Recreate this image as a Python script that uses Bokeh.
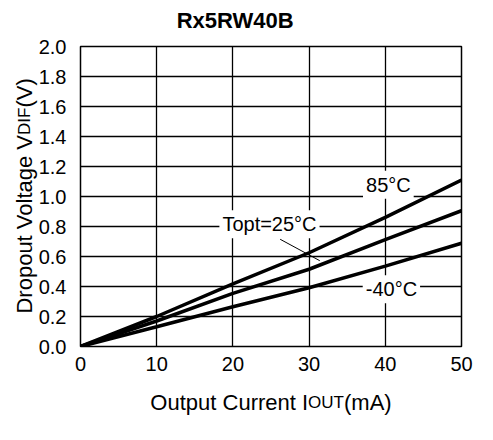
import math
from bokeh.plotting import figure
from bokeh.models import Range1d, FixedTicker, Label, NumeralTickFormatter
from bokeh.core.properties import value
from bokeh.embed import file_html
from bokeh.resources import INLINE

# ---- data ----
iout = [0, 10, 20, 30, 40, 50]                      # Output current (mA)
v_85 = [0, 0.200, 0.417, 0.625, 0.861, 1.110]       # 85°C
v_25 = [0, 0.170, 0.354, 0.515, 0.713, 0.905]       # Topt=25°C
v_m40 = [0, 0.132, 0.265, 0.392, 0.536, 0.688]      # -40°C
x_ticks = [0, 10, 20, 30, 40, 50]
y_ticks = [0.0, 0.2, 0.4, 0.6, 0.8, 1.0, 1.2, 1.4, 1.6, 1.8, 2.0]
title_text = "Rx5RW40B"
series_labels = ["85°C", "Topt=25°C", "-40°C"]
label_x = [40.4, 24.8, 40.8]
label_y = [1.079, 0.815, 0.382]
leader_x = [26.2, 31.4]
leader_y = [0.715, 0.572]

FONT = "Liberation Sans"
X0, X1, Y0, Y1 = 0, 50, 0, 2
FW, FH = 381, 300
BL, BR, BT, BB = 80, 14, 46, 70
CW = BL + FW + BR

# Arial / Liberation Sans advance widths (per 1000 em)
AW = {" ": 278, "(": 333, ")": 333, "A": 667, "C": 722, "D": 722, "F": 611,
      "I": 278, "O": 778, "T": 611, "U": 722, "V": 667, "a": 556, "e": 556,
      "g": 556, "l": 222, "m": 833, "n": 556, "o": 556, "p": 556, "r": 333,
      "t": 278, "u": 556}


def tw(s, size):
    return sum(AW.get(c, 556) for c in s) / 1000.0 * size


def fx(px):
    """pixels right of the frame's left edge -> data x"""
    return X0 + px * (X1 - X0) / FW


def fy(py):
    """pixels above the frame's bottom edge -> data y"""
    return Y0 + py * (Y1 - Y0) / FH


p = figure(frame_width=FW, frame_height=FH,
           min_border_left=BL, min_border_right=BR,
           min_border_top=BT, min_border_bottom=BB,
           x_range=Range1d(X0, X1), y_range=Range1d(Y0, Y1),
           output_backend="svg", toolbar_location=None)
p.background_fill_color = "white"
p.border_fill_color = "white"
p.outline_line_color = "black"
p.outline_line_width = 1.5

for ax, ticks in ((p.xaxis[0], x_ticks), (p.yaxis[0], y_ticks)):
    ax.ticker = FixedTicker(ticks=ticks)
    ax.axis_line_color = None
    ax.major_tick_line_color = None
    ax.minor_tick_line_color = None
    ax.major_tick_out = 0
    ax.major_tick_in = 0
    ax.major_label_text_font = FONT
    ax.major_label_text_font_size = "20px"
    ax.major_label_text_color = "black"
p.yaxis[0].formatter = NumeralTickFormatter(format="0.0")
p.yaxis[0].major_label_standoff = 14
p.xaxis[0].major_label_standoff = 10

p.xgrid[0].ticker = FixedTicker(ticks=x_ticks)
p.ygrid[0].ticker = FixedTicker(ticks=y_ticks)
for g in (p.xgrid[0], p.ygrid[0]):
    g.grid_line_color = "black"
    g.grid_line_width = 1.3
    g.grid_line_alpha = 1.0

for ys in (v_85, v_25, v_m40):
    p.line(iout, ys, line_color="black", line_width=3.5)

p.line(leader_x, leader_y, line_color="black", line_width=1)

for t, lx, ly in zip(series_labels, label_x, label_y):
    p.add_layout(Label(x=lx, y=ly, text=t, text_align="center",
                       text_baseline="middle", text_font=FONT,
                       text_font_size="20px", text_color="black",
                       background_fill_color="white", padding=3))


def outside_text(x, y, txt, size, align, angle=0.0, bold=False):
    p.text(x=[x], y=[y], text=[txt], angle=angle,
           text_font=value(FONT), text_font_size=value(f"{size}px"),
           text_font_style="bold" if bold else "normal",
           text_align=align, text_baseline="alphabetic",
           text_color="black", level="overlay")


# title
outside_text(fx(FW * 0.406), fy(FH + 26), title_text, 22, "center", bold=True)

# x axis label: "Output Current I" + small "OUT" + "(mA)"
MAIN, SUB = 22, 17
x1, x2, x3 = "Output Current I", "OUT", "(mA)"
tot = tw(x1, MAIN) + tw(x2, SUB) + tw(x3, MAIN)
s = FW / 2 - tot / 2
by = fy(-56)
outside_text(fx(s + tw(x1, MAIN)), by, x1, MAIN, "right")
outside_text(fx(s + tw(x1, MAIN)), by, x2, SUB, "left")
outside_text(fx(s + tw(x1, MAIN) + tw(x2, SUB)), by, x3, MAIN, "left")

# y axis label: "Dropout Voltage V" + small "DIF" + "(V)"
y1, y2, y3 = "Dropout Voltage V", "DIF", "(V)"
tot = tw(y1, MAIN) + tw(y2, SUB) + tw(y3, MAIN)
s = FH / 2 - tot / 2
bx = fx(-56)
ang = math.pi / 2
outside_text(bx, fy(s + tw(y1, MAIN)), y1, MAIN, "right", ang)
outside_text(bx, fy(s + tw(y1, MAIN)), y2, SUB, "left", ang)
outside_text(bx, fy(s + tw(y1, MAIN) + tw(y2, SUB)), y3, MAIN, "left", ang)

open("out.html", "w").write(file_html(p, INLINE))
